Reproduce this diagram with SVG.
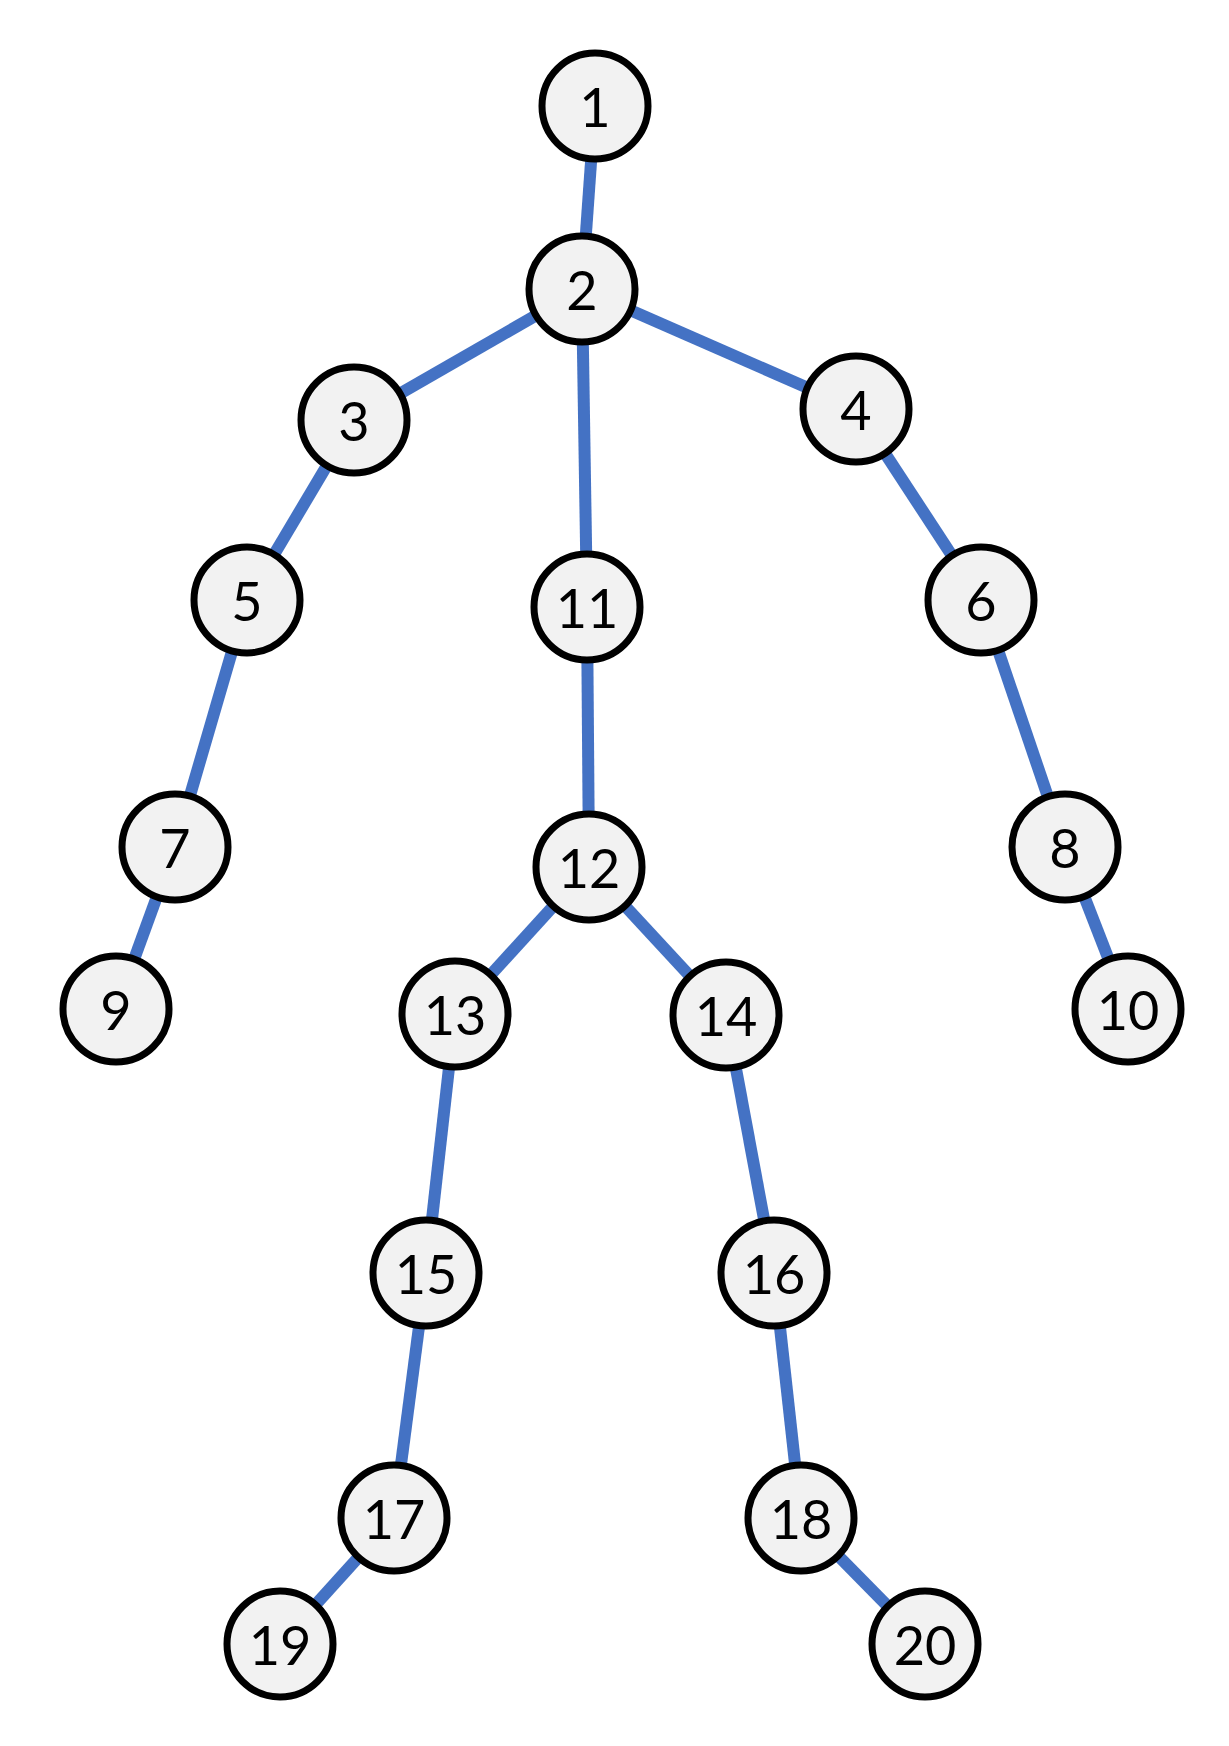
<svg xmlns="http://www.w3.org/2000/svg" width="1229" height="1746" viewBox="0 0 1229 1746">
<style>
.e{stroke:#4472c4;stroke-width:12;fill:none}
.n circle{fill:#f2f2f2;stroke:#000;stroke-width:7}
.n text{font-family:Lato,"Open Sans","Liberation Sans",sans-serif;font-size:54px;fill:#000;text-anchor:middle;dominant-baseline:central}
</style>
<rect width="1229" height="1746" fill="#fff"/>
<g id="connectors">
<line class="e" x1="595" y1="106" x2="582" y2="289"/>
<line class="e" x1="582" y1="289" x2="354" y2="420"/>
<line class="e" x1="582" y1="289" x2="856" y2="409"/>
<line class="e" x1="582" y1="289" x2="587" y2="607"/>
<line class="e" x1="354" y1="420" x2="247" y2="600"/>
<line class="e" x1="247" y1="600" x2="175" y2="847"/>
<line class="e" x1="175" y1="847" x2="116" y2="1009"/>
<line class="e" x1="856" y1="409" x2="981" y2="600"/>
<line class="e" x1="981" y1="600" x2="1065" y2="847"/>
<line class="e" x1="1065" y1="847" x2="1128" y2="1009"/>
<line class="e" x1="587" y1="607" x2="589" y2="867"/>
<line class="e" x1="589" y1="867" x2="455" y2="1014"/>
<line class="e" x1="589" y1="867" x2="726" y2="1015"/>
<line class="e" x1="455" y1="1014" x2="426" y2="1273"/>
<line class="e" x1="426" y1="1273" x2="394" y2="1518"/>
<line class="e" x1="394" y1="1518" x2="280" y2="1644"/>
<line class="e" x1="726" y1="1015" x2="774" y2="1273"/>
<line class="e" x1="774" y1="1273" x2="801" y2="1518"/>
<line class="e" x1="801" y1="1518" x2="925" y2="1644"/>
</g>
<g id="n1" class="n"><circle cx="595" cy="106" r="53"/><text x="595" y="106">1</text></g>
<g id="n2" class="n"><circle cx="582" cy="289" r="53"/><text x="582" y="289">2</text></g>
<g id="n3" class="n"><circle cx="354" cy="420" r="53"/><text x="354" y="420">3</text></g>
<g id="n4" class="n"><circle cx="856" cy="409" r="53"/><text x="856" y="409">4</text></g>
<g id="n5" class="n"><circle cx="247" cy="600" r="53"/><text x="247" y="600">5</text></g>
<g id="n6" class="n"><circle cx="981" cy="600" r="53"/><text x="981" y="600">6</text></g>
<g id="n7" class="n"><circle cx="175" cy="847" r="53"/><text x="175" y="847">7</text></g>
<g id="n8" class="n"><circle cx="1065" cy="847" r="53"/><text x="1065" y="847">8</text></g>
<g id="n9" class="n"><circle cx="116" cy="1009" r="53"/><text x="116" y="1009">9</text></g>
<g id="n10" class="n"><circle cx="1128" cy="1009" r="53"/><text x="1128" y="1009">10</text></g>
<g id="n11" class="n"><circle cx="587" cy="607" r="53"/><text x="587" y="607">11</text></g>
<g id="n12" class="n"><circle cx="589" cy="867" r="53"/><text x="589" y="867">12</text></g>
<g id="n13" class="n"><circle cx="455" cy="1014" r="53"/><text x="455" y="1014">13</text></g>
<g id="n14" class="n"><circle cx="726" cy="1015" r="53"/><text x="726" y="1015">14</text></g>
<g id="n15" class="n"><circle cx="426" cy="1273" r="53"/><text x="426" y="1273">15</text></g>
<g id="n16" class="n"><circle cx="774" cy="1273" r="53"/><text x="774" y="1273">16</text></g>
<g id="n17" class="n"><circle cx="394" cy="1518" r="53"/><text x="394" y="1518">17</text></g>
<g id="n18" class="n"><circle cx="801" cy="1518" r="53"/><text x="801" y="1518">18</text></g>
<g id="n19" class="n"><circle cx="280" cy="1644" r="53"/><text x="280" y="1644">19</text></g>
<g id="n20" class="n"><circle cx="925" cy="1644" r="53"/><text x="925" y="1644">20</text></g>
</svg>
